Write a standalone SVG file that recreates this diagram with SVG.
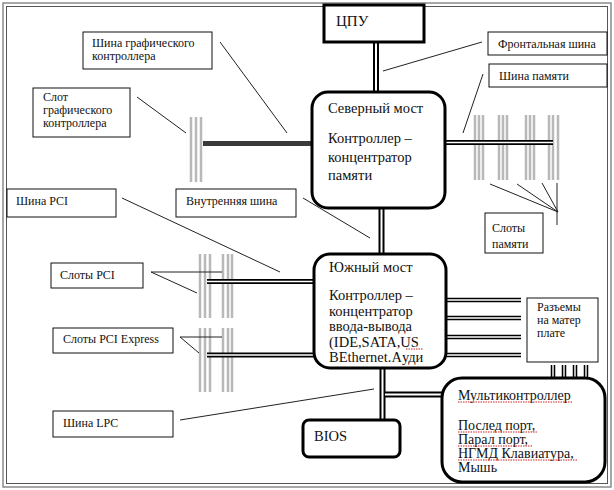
<svg xmlns="http://www.w3.org/2000/svg" width="614" height="490" viewBox="0 0 614 490">
<style>
text{font-family:"Liberation Serif","Times New Roman",serif;fill:#111}
.lbl{font-size:12px}
.big{font-size:14.5px}
.box{fill:#fff;stroke:#111;stroke-width:1}
.node{fill:#fff;stroke:#000;stroke-width:3}
.lead{stroke:#222;stroke-width:1;fill:none}
.busb{stroke:#000;fill:none}
.busw{stroke:#fff;fill:none}
.slot{stroke:#b8b8b8;stroke-width:2.5;fill:none}
.sp{stroke:#d02020;stroke-width:1;stroke-dasharray:1.5 1;fill:none}
</style>
<rect x="0" y="0" width="614" height="490" fill="#fff"/>
<rect x="3" y="3" width="608" height="484" fill="none" stroke="#8a8a8a" stroke-width="1.5"/>
<rect x="6.5" y="6.5" width="601" height="477" fill="none" stroke="#555" stroke-width="1"/>

<g id="slots">
  <path class="slot" d="M191 117V182M196 117V182M201 117V182"/>
  <path class="slot" d="M475 115V180M479 115V180M483 115V180M499 115V180M503 115V180M507 115V180M526 115V180M530 115V180M534 115V180M549 115V180M553 115V180M558 115V180"/>
  <path class="slot" d="M200 254V318M205 254V318M210 254V318M223 254V318M228 254V318M232 254V318"/>
  <path class="slot" d="M200 328V392M205 328V392M210 328V392M223 328V392M228 328V392M232 328V392"/>
</g>

<g id="connectors">
  <line x1="203" y1="143.5" x2="313" y2="143.5" stroke="#3a3a3a" stroke-width="5"/>
  <path class="busb" stroke-width="6" d="M376 43V93M381.5 207V255M382.5 367V420M382 394.5H443"/>
  <path class="busw" stroke-width="2" d="M376 43V93M381.5 207V255M382.5 367V420M385 394.5H443"/>
  <path class="busb" stroke-width="5" d="M445 142.5H553M207 281.5H314M207 355H314"/>
  <path class="busw" stroke-width="1.6" d="M445 142.5H553M207 281.5H314M207 355H314"/>
  <path class="busb" stroke-width="4.5" d="M446 300H521M446 318H521M446 337H521M446 355H521M553 365V378M564 365V378M575 365V378M586 365V378"/>
  <path class="busw" stroke-width="1.4" d="M446 300H521M446 318H521M446 337H521M446 355H521M553 365V378M564 365V378M575 365V378M586 365V378"/>
  <path class="lead" d="M482 42L383 71M483 74L463 133M220 42L287 133M137 97L186 133M122 198L280 272M303 198L370 238"/>
  <path class="lead" d="M490 184L558 212M517 184L558 212M542 183L558 212M557 183V225"/>
  <path class="lead" d="M151 272H222M151 272L197 293M180 337H222M180 337L199 353M180 420L374 389"/>
</g>

<g id="cpu">
  <rect class="node" x="324" y="5" width="100" height="37"/>
  <text class="big" x="336" y="26" style="font-size:15px">ЦПУ</text>
</g>
<g id="north-bridge">
  <rect class="node" x="312" y="92" width="133" height="116" rx="16"/>
  <text class="big" x="328" y="113">Северный мост</text>
  <text class="big" x="328" y="143">Контроллер –</text>
  <text class="big" x="328" y="162">концентратор</text>
  <text class="big" x="328" y="180">памяти</text>
</g>
<g id="south-bridge">
  <rect class="node" x="314" y="254" width="132" height="114" rx="16"/>
  <text class="big" x="329" y="272">Южный мост</text>
  <text class="big" x="329" y="300">Контроллер –</text>
  <text class="big" x="329" y="316">концентратор</text>
  <text class="big" x="329" y="331">ввода-вывода</text>
  <text class="big" x="329" y="347">(IDE,SATA,US</text>
  <text class="big" x="329" y="362">BEthernet.Aуди</text>
  <path class="sp" d="M406 349H423"/>
</g>
<g id="bios">
  <rect class="node" x="303" y="420" width="97" height="37" rx="6"/>
  <text class="big" x="314" y="441">BIOS</text>
</g>
<g id="multicontroller">
  <rect class="node" x="442" y="378" width="163" height="104" rx="20"/>
  <text class="big" x="458" y="400" style="font-size:14px">Мультиконтроллер</text>
  <text class="big" x="458" y="430" style="font-size:14px">Послед порт,</text>
  <text class="big" x="458" y="444" style="font-size:14px">Парал порт,</text>
  <text class="big" x="458" y="458" style="font-size:14px">НГМД Клавиатура,</text>
  <text class="big" x="458" y="472" style="font-size:14px">Мышь</text>
  <path class="sp" d="M458 402H573M458 432H538M458 446H533M458 460H577"/>
</g>

<g id="label-fsb"><rect class="box" x="488" y="32" width="119" height="23"/><text class="lbl" x="498" y="48">Фронтальная шина</text></g>
<g id="label-membus"><rect class="box" x="489" y="64" width="118" height="23"/><text class="lbl" x="499" y="80">Шина памяти</text></g>
<g id="label-memslots"><rect class="box" x="485" y="213" width="58" height="40"/><text class="lbl" x="492" y="232">Слоты</text><text class="lbl" x="492" y="248">памяти</text></g>
<g id="label-gbus"><rect class="box" x="83" y="32" width="129" height="37"/><text class="lbl" x="92" y="47">Шина графического</text><text class="lbl" x="92" y="60">контроллера</text></g>
<g id="label-gslot"><rect class="box" x="33" y="88" width="97" height="49"/><text class="lbl" x="43" y="101">Слот</text><text class="lbl" x="43" y="114">графического</text><text class="lbl" x="43" y="127">контроллера</text></g>
<g id="label-pcibus"><rect class="box" x="7" y="189" width="109" height="28"/><text class="lbl" x="16" y="205">Шина PCI</text></g>
<g id="label-internal"><rect class="box" x="176" y="189" width="120" height="28"/><text class="lbl" x="186" y="205">Внутренняя шина</text></g>
<g id="label-pcislots"><rect class="box" x="51" y="263" width="92" height="25"/><text class="lbl" x="60" y="279">Слоты PCI</text></g>
<g id="label-pcie"><rect class="box" x="53" y="328" width="120" height="25"/><text class="lbl" x="63" y="343">Слоты PCI Express</text></g>
<g id="label-lpc"><rect class="box" x="53" y="411" width="120" height="26"/><text class="lbl" x="63" y="427">Шина LPC</text></g>
<g id="label-connectors"><rect class="box" x="527" y="298" width="71" height="64"/><text class="lbl" x="537" y="311">Разъемы</text><text class="lbl" x="537" y="324">на матер</text><text class="lbl" x="537" y="337">плате</text></g>
</svg>
